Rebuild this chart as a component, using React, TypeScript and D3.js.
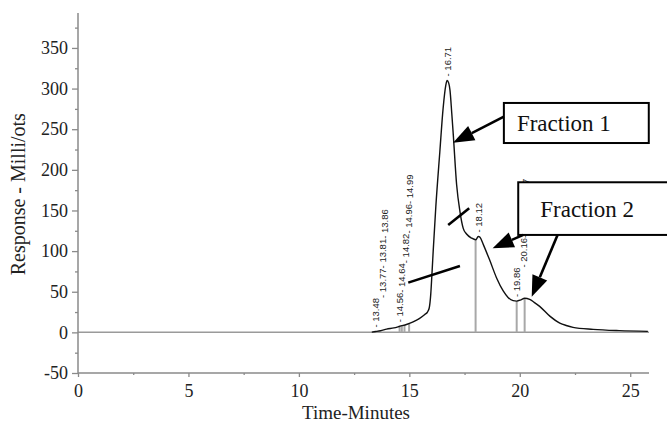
import React, { useEffect, useRef } from "react";
import * as d3 from "d3";

// chromatogram trace (minutes, milli-volts)
const times = [
  13.3, 13.48, 13.7, 13.97, 14.3, 14.57, 14.9, 15.17, 15.45, 15.7, 15.82, 15.9, 15.97, 16.03,
  16.08, 16.2, 16.38, 16.53, 16.65, 16.71, 16.78, 16.84, 16.92, 16.99, 17.14, 17.29, 17.44,
  17.59, 17.82, 18.01, 18.12, 18.2, 18.35, 18.65, 18.95, 19.25, 19.47, 19.7, 19.86, 20.05,
  20.22, 20.45, 20.65, 20.9, 21.36, 21.81, 22.1, 22.41, 23.32, 24.5, 25.8
];
const response = [
  0.3, 1, 2, 4, 5.5, 7.5, 10, 13, 17, 22, 25, 30, 47, 75,
  100, 155, 222, 276, 304, 310, 307, 298, 270, 243, 182, 149, 128,
  121, 116, 114, 118, 117, 108, 88, 67, 51, 43, 39, 38.5, 40,
  42, 40.5, 37, 32, 20, 11.5, 8.5, 6.2, 3.7, 2.1, 1.2
];

// integrator peak labels and drop lines
const peakTimes = [
  13.48, 13.77, 13.81, 13.86, 14.56, 14.64, 14.82, 14.96, 14.99, 16.71, 18.12, 19.86, 20.16,
  20.21, 20.27
];
const dropTimes = [14.56, 14.66, 14.78, 14.99, 18.0, 19.86, 20.22];

const xTicks = [0, 5, 10, 15, 20, 25];
const xMinor = [2.5, 7.5, 12.5, 17.5, 22.5];
const yTicks = [-50, 0, 50, 100, 150, 200, 250, 300, 350];
const yMinor = [-25, 25, 75, 125, 175, 225, 275, 325, 375];

// annotations (data units)
const boxes = [
  { label: "Fraction 1", t0: 19.28, t1: 25.84, v0: 282.3, v1: 233, pad: 13 },
  { label: "Fraction 2", t0: 19.93, t1: 27.25, v0: 184.7, v1: 119.9, pad: 22 }
];
const arrows = [
  { from: [19.28, 265.4], to: [16.98, 233.4] },
  { from: [20.16, 119.9], to: [18.77, 103.5] },
  { from: [21.71, 119.9], to: [20.54, 43.9] }
];
const slashes = [
  { from: [14.95, 61.2], to: [17.29, 81.7] },
  { from: [16.76, 132.2], to: [17.71, 152.7] }
];

const W = 667;
const H = 423;

const App = () => {
  const ref = useRef<SVGSVGElement>(null);

  useEffect(() => {
    const svg = d3.select(ref.current);
    svg.selectAll("*").remove();

    const x = d3.scaleLinear().domain([0, 25.85]).range([78, 649]);
    const y = d3.scaleLinear().domain([-50, 393]).range([373, 13]);

    const valueAt = (t: number) => {
      if (t <= times[0]) return 0;
      const i = d3.bisectLeft(times, t);
      if (i >= times.length) return response[response.length - 1];
      const a = times[i - 1], b = times[i];
      const k = (t - a) / (b - a);
      return response[i - 1] + k * (response[i] - response[i - 1]);
    };

    // baseline at zero
    svg.append("line")
      .attr("x1", x(0)).attr("x2", x(25.85))
      .attr("y1", y(0)).attr("y2", y(0))
      .attr("stroke", "#9a9a9a").attr("stroke-width", 1.5);

    // drop lines
    svg.append("g").selectAll("line").data(dropTimes).join("line")
      .attr("x1", d => x(d)).attr("x2", d => x(d))
      .attr("y1", y(0)).attr("y2", d => y(valueAt(d)))
      .attr("stroke", "#a8a8a8").attr("stroke-width", 2);

    // trace
    const line = d3.line<number>()
      .x((_, i) => x(times[i]))
      .y(d => y(d))
      .curve(d3.curveMonotoneX);
    svg.append("path")
      .datum(response)
      .attr("d", line)
      .attr("fill", "none")
      .attr("stroke", "#111")
      .attr("stroke-width", 1.4);

    // peak labels, stacked upward when crowded
    const fs = 9.5;
    const charW = (s: string) =>
      d3.sum(s.split(""), c => (c === " " || c === "." ? 0.278 : c === "-" ? 0.333 : 0.556)) * fs;
    let prevX = -100, prevTop = 0;
    const lab = svg.append("g")
      .attr("font-family", "Liberation Sans, Arial, sans-serif")
      .attr("font-size", fs)
      .attr("fill", "#222");
    peakTimes.forEach(t => {
      const txt = `- ${t.toFixed(2)}`;
      const px = x(t);
      let start = y(valueAt(t)) - 4;
      if (px - prevX < 8) start = Math.min(start, prevTop);
      lab.append("text")
        .attr("transform", `translate(${px + 3.4},${start}) rotate(-90)`)
        .text(txt);
      prevX = px;
      prevTop = start - charW(txt);
    });

    // axes
    const axisColor = "#8a8a8a";
    const yAxis = svg.append("g").attr("transform", `translate(${x(0)},0)`);
    yAxis.call(d3.axisLeft(y).tickValues(yTicks).tickSize(6).tickFormat(d => String(d)))
      .call(g => g.select(".domain").remove())
      .call(g => g.selectAll("line").attr("stroke", axisColor).attr("stroke-width", 1.3))
      .call(g => g.selectAll("text")
        .attr("font-family", "Liberation Serif, Times New Roman, serif")
        .attr("font-size", 18).attr("fill", "#222").attr("dx", "-1"));
    yAxis.append("g").call(d3.axisLeft(y).tickValues(yMinor).tickSize(3).tickFormat(() => ""))
      .call(g => g.select(".domain").remove())
      .call(g => g.selectAll("line").attr("stroke", axisColor).attr("stroke-width", 1.3));
    yAxis.append("line")
      .attr("y1", y(-50)).attr("y2", y(393))
      .attr("stroke", axisColor).attr("stroke-width", 1.5);

    const xAxis = svg.append("g").attr("transform", `translate(0,${y(-50)})`);
    xAxis.call(d3.axisBottom(x).tickValues(xTicks).tickSize(4).tickPadding(7).tickFormat(d => String(d)))
      .call(g => g.select(".domain").remove())
      .call(g => g.selectAll("line").attr("stroke", axisColor).attr("stroke-width", 1.3))
      .call(g => g.selectAll("text")
        .attr("font-family", "Liberation Serif, Times New Roman, serif")
        .attr("font-size", 18).attr("fill", "#222"));
    xAxis.append("g").call(d3.axisBottom(x).tickValues(xMinor).tickSize(2).tickFormat(() => ""))
      .call(g => g.select(".domain").remove())
      .call(g => g.selectAll("line").attr("stroke", axisColor).attr("stroke-width", 1.3));
    xAxis.append("line")
      .attr("x1", x(0)).attr("x2", x(25.85))
      .attr("stroke", axisColor).attr("stroke-width", 1.5);

    // titles
    svg.append("text")
      .attr("x", 356).attr("y", 419)
      .attr("text-anchor", "middle")
      .attr("font-family", "Liberation Serif, Times New Roman, serif")
      .attr("font-size", 19).attr("fill", "#222")
      .text("Time-Minutes");
    svg.append("text")
      .attr("transform", `translate(25,${y(170)}) rotate(-90)`)
      .attr("text-anchor", "middle")
      .attr("font-family", "Liberation Serif, Times New Roman, serif")
      .attr("font-size", 20).attr("fill", "#222")
      .text("Response - Milli/ots");

    // annotation slashes
    svg.append("g").selectAll("line").data(slashes).join("line")
      .attr("x1", d => x(d.from[0])).attr("y1", d => y(d.from[1]))
      .attr("x2", d => x(d.to[0])).attr("y2", d => y(d.to[1]))
      .attr("stroke", "#000").attr("stroke-width", 2.6);

    // fraction boxes
    const bx = svg.append("g");
    boxes.forEach(b => {
      bx.append("rect")
        .attr("x", x(b.t0)).attr("y", y(b.v0))
        .attr("width", x(b.t1) - x(b.t0)).attr("height", y(b.v1) - y(b.v0))
        .attr("fill", "#fff").attr("stroke", "#000").attr("stroke-width", 2);
      bx.append("text")
        .attr("x", x(b.t0) + b.pad)
        .attr("y", (y(b.v0) + y(b.v1)) / 2 + 8)
        .attr("font-family", "Liberation Serif, Times New Roman, serif")
        .attr("font-size", 23).attr("fill", "#111")
        .text(b.label);
    });

    // arrows
    const ag = svg.append("g");
    arrows.forEach(a => {
      const x1 = x(a.from[0]), y1 = y(a.from[1]);
      const x2 = x(a.to[0]), y2 = y(a.to[1]);
      const ang = Math.atan2(y2 - y1, x2 - x1);
      const len = 21, hw = 8;
      const bxp = x2 - len * Math.cos(ang), byp = y2 - len * Math.sin(ang);
      ag.append("line")
        .attr("x1", x1).attr("y1", y1).attr("x2", bxp).attr("y2", byp)
        .attr("stroke", "#000").attr("stroke-width", 2.6);
      const pts = [
        [x2, y2],
        [bxp + hw * Math.sin(ang), byp - hw * Math.cos(ang)],
        [bxp - hw * Math.sin(ang), byp + hw * Math.cos(ang)]
      ];
      ag.append("polygon").attr("points", pts.map(p => p.join(",")).join(" ")).attr("fill", "#000");
    });
  }, []);

  return (
    <svg
      ref={ref}
      width={W}
      height={H}
      style={{ position: "absolute", left: 0, top: 0, background: "#fff" }}
    />
  );
};

export default App;
